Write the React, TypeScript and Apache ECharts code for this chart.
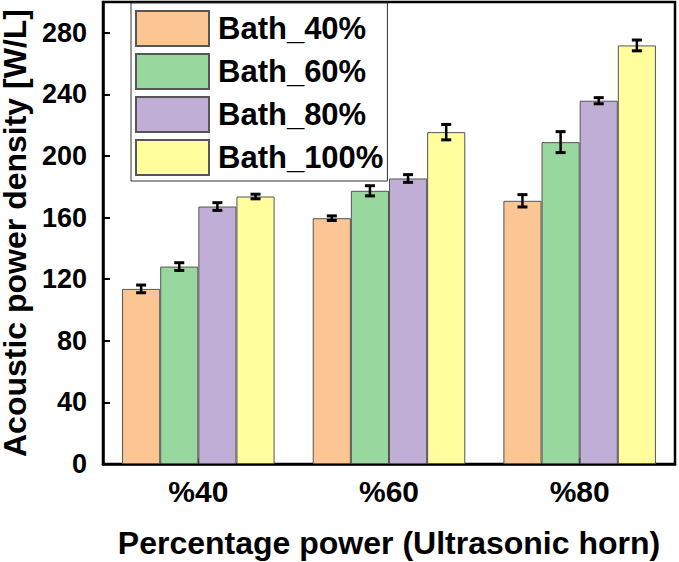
import React, { useEffect, useRef } from "react";
import * as echarts from "echarts";

const categories = ["%40", "%60", "%80"];
const seriesNames = ["Bath_40%", "Bath_60%", "Bath_80%", "Bath_100%"];
const bath40 = [113.7, 159.6, 170.9];
const bath60 = [128.2, 177.4, 209.0];
const bath80 = [167.2, 185.4, 235.9];
const bath100 = [173.7, 215.5, 271.8];
const err40 = [2.5, 1.5, 4.0];
const err60 = [2.5, 3.3, 6.8];
const err80 = [2.5, 2.5, 2.0];
const err100 = [1.5, 5.0, 3.5];
const colors = ["#FCC594", "#98D89E", "#C1AED6", "#FFFD9C"];

const FONT = "'Liberation Sans', Arial, sans-serif";

export default function App() {
  const ref = useRef<HTMLDivElement>(null);
  useEffect(() => {
    if (!ref.current) return;
    const chart = echarts.init(ref.current, undefined, { renderer: "svg" });
    const values = [bath40, bath60, bath80, bath100];
    const errs = [err40, err60, err80, err100];
    const errData: number[][] = [];
    values.forEach((arr, s) =>
      arr.forEach((v, c) => errData.push([c, s, v, errs[s][c]]))
    );
    const barSeries = values.map((arr, i) => ({
      name: seriesNames[i],
      type: "bar",
      data: arr,
      barGap: "0%",
      barCategoryGap: "20%",
      itemStyle: { color: colors[i], borderColor: "#555", borderWidth: 1 },
    }));
    chart.setOption({
      animation: false,
      textStyle: { fontFamily: FONT },
      grid: {
        left: 103,
        right: 4,
        top: 2,
        bottom: 98,
        containLabel: false,
        outerBoundsMode: "none",
        show: true,
        borderColor: "#000",
        borderWidth: 2.5,
        backgroundColor: "transparent",
      },
      legend: {
        data: seriesNames,
        orient: "vertical",
        left: 131,
        top: 3,
        padding: [7, 4, 5, 4],
        itemWidth: 73,
        itemHeight: 35,
        itemGap: 6,
        backgroundColor: "#fff",
        borderColor: "#333",
        borderWidth: 1,
        icon: "rect",
        textStyle: {
          fontFamily: FONT,
          fontSize: 31,
          fontWeight: "bold",
          color: "#000",
          lineHeight: 35,
          padding: [0, 0, 0, 4],
        },
      },
      xAxis: {
        type: "category",
        data: categories,
        name: "Percentage power (Ultrasonic horn)",
        nameLocation: "middle",
        nameGap: 63,
        nameTextStyle: { fontFamily: FONT, fontSize: 32, fontWeight: "bold", color: "#000" },
        axisLine: { lineStyle: { color: "#000", width: 2.5 } },
        axisTick: { show: true, inside: true, alignWithLabel: true, length: 6, lineStyle: { color: "#000", width: 2 } },
        axisLabel: { fontFamily: FONT, fontSize: 30, fontWeight: "bold", color: "#000", margin: 12 },
      },
      yAxis: {
        type: "value",
        min: 0,
        max: 300,
        interval: 40,
        name: "Acoustic power density [W/L]",
        nameLocation: "middle",
        nameGap: 62,
        nameTextStyle: { fontFamily: FONT, fontSize: 32, lineHeight: 30, fontWeight: "bold", color: "#000" },
        axisLine: { show: true, lineStyle: { color: "#000", width: 2.5 } },
        axisTick: { show: true, inside: true, length: 7, lineStyle: { color: "#000", width: 2 } },
        axisLabel: { fontFamily: FONT, fontSize: 27, fontWeight: "bold", color: "#000", margin: 16, showMaxLabel: false },
        splitLine: { show: false },
      },
      series: [
        ...barSeries,
        {
          type: "custom",
          z: 10,
          data: errData,
          encode: { x: 0, y: 2 },
          renderItem: (params: any, api: any) => {
            const cat = api.value(0);
            const s = api.value(1);
            const v = api.value(2);
            const e = api.value(3);
            const band = api.size([1, 0])[0];
            const bw = (band * 0.8) / 4;
            const x = api.coord([cat, v])[0] + (s - 1.5) * bw;
            const yTop = api.coord([cat, v + e])[1];
            const yBot = api.coord([cat, v - e])[1];
            const cap = 5;
            const style = { stroke: "#000", lineWidth: 3 };
            return {
              type: "group",
              children: [
                { type: "line", shape: { x1: x, y1: yTop, x2: x, y2: yBot }, style: { stroke: "#000", lineWidth: 2.5 } },
                { type: "line", shape: { x1: x - cap, y1: yTop, x2: x + cap, y2: yTop }, style },
                { type: "line", shape: { x1: x - cap, y1: yBot, x2: x + cap, y2: yBot }, style },
              ],
            };
          },
        },
      ],
    });
    return () => chart.dispose();
  }, []);
  return (
    <div
      ref={ref}
      style={{ position: "absolute", left: 0, top: 0, width: 679, height: 562, background: "#fff" }}
    />
  );
}
